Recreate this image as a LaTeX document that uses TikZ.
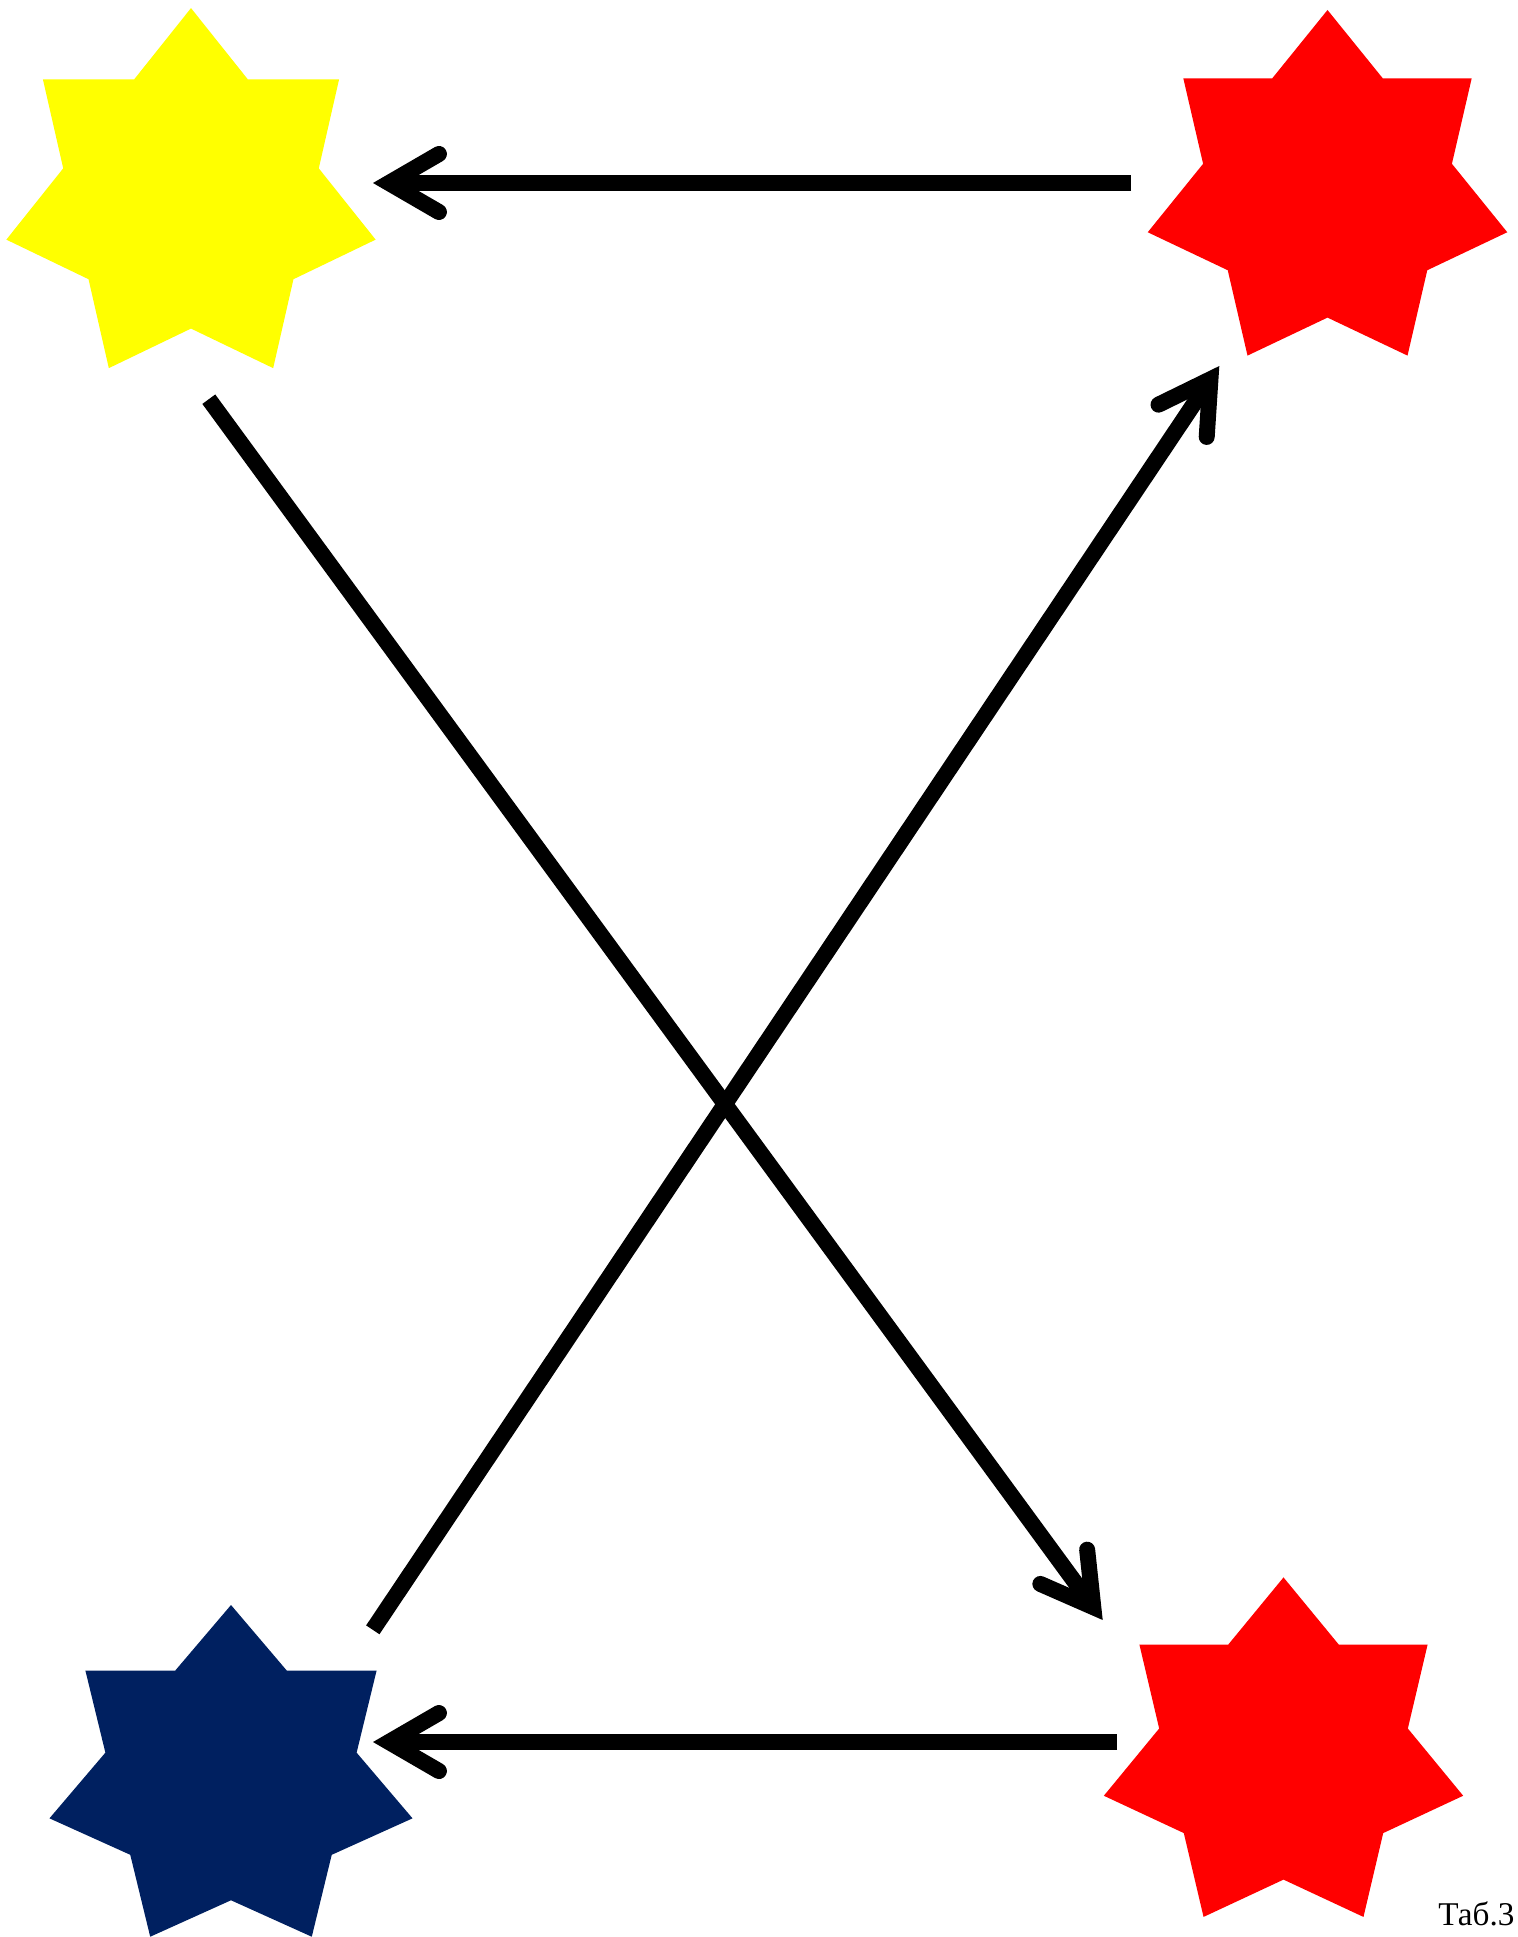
\documentclass[tikz,border=0pt]{standalone}
\usepackage{fontspec}
\setmainfont{Liberation Serif}
\usetikzlibrary{arrows.meta}
\definecolor{navy}{HTML}{002060}
\definecolor{starred}{HTML}{FF0000}
\definecolor{staryellow}{HTML}{FFFF00}

% seven-pointed star: centre, outer radii, colour
\newcommand{\heptstar}[4]{%
    \fill[#4, shift={(#1)}] (-90:#2 and #3)
        \foreach \k in {0,...,6}{ -- (-90+\k*51.4286:#2 and #3) -- (-64.2857+\k*51.4286:0.69202*#2 and 0.69202*#3)} -- cycle;}

\tikzset{
    arr/.style={line width=8pt, -{Straight Barb[length=25pt,width=29pt,line cap=round,line join=miter]}},
    lbl/.style={font=\fontsize{16.6}{19}\selectfont, inner sep=0pt, anchor=base west}
}

\begin{document}
\begin{tikzpicture}[x=0.5pt, y=-0.5pt]
    \useasboundingbox (0,0) rectangle (1517,1937);
    \coordinate (Y) at (191,197.5);
    \coordinate (R1) at (1327.5,191.8);
    \coordinate (N) at (231,1779.5);
    \coordinate (R2) at (1283.5,1756);
    \heptstar{Y}{189.4}{189.4}{staryellow}
    \heptstar{R1}{184.4}{181.8}{starred}
    \heptstar{N}{186.2}{174.5}{navy}
    \heptstar{R2}{184.3}{178.6}{starred}
    % arrow ends
    \coordinate (R1w) at (1131,183);
    \coordinate (Ye) at (373,183);
    \coordinate (R2w) at (1117,1742);
    \coordinate (Ne) at (373,1742);
    \coordinate (Ys) at (208.8,399.2);
    \coordinate (R2n) at (1102.7,1620);
    \coordinate (Nn) at (372.8,1629.8);
    \coordinate (R1s) at (1219.3,366);
    \draw[arr] (R1w) -- (Ye);
    \draw[arr] (R2w) -- (Ne);
    \draw[arr] (Ys) -- (R2n);
    \draw[arr] (Nn) -- (R1s);
    \node[lbl] (tab) at (1438,1925) {Таб.3};
\end{tikzpicture}
\end{document}
